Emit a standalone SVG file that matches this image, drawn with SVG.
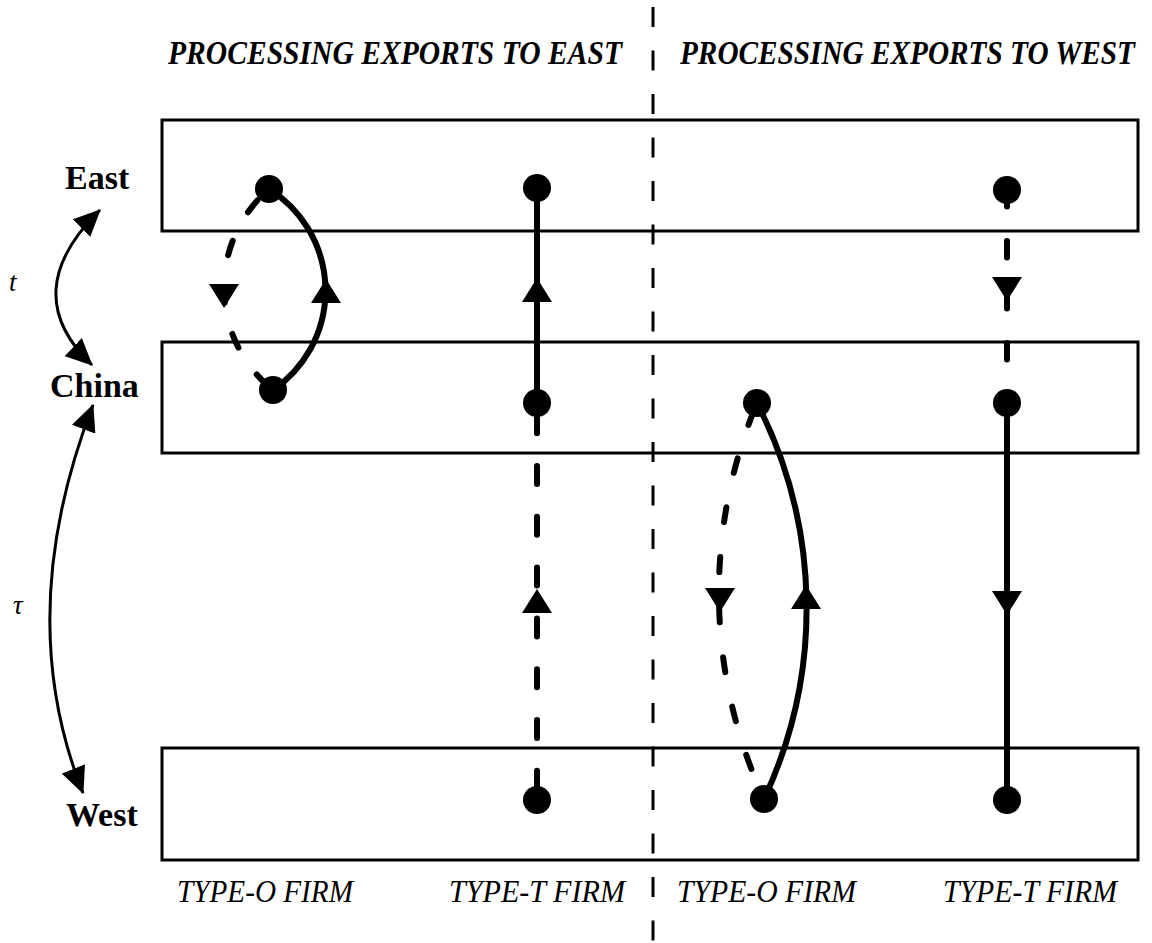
<svg xmlns="http://www.w3.org/2000/svg" xmlns:xlink="http://www.w3.org/1999/xlink" width="1152" height="943" viewBox="0 0 1152 943">
<style>
.box{fill:none;stroke:#000;stroke-width:3}
.dot{fill:#000}
.solid{fill:none;stroke:#000;stroke-width:6}
.dash{fill:none;stroke:#000;stroke-width:6;stroke-linecap:round}
.thin{fill:none;stroke:#000;stroke-width:3}
.divider{fill:none;stroke:#000;stroke-width:3;stroke-dasharray:20 23.5}
.head{font-family:"Liberation Serif",serif;font-weight:bold;font-style:italic;font-size:30px}
.region{font-family:"Liberation Serif",serif;font-weight:bold;font-size:34px}
.firm{font-family:"Liberation Serif",serif;font-style:italic;font-size:31px}
.sym{font-family:"Liberation Serif",serif;font-style:italic;font-size:27px}
</style>
<defs>
<path id="ah" d="M0,-12 L15,12 L-15,12 Z" fill="#000"/>
<marker id="tip" markerUnits="userSpaceOnUse" markerWidth="27" markerHeight="25" viewBox="0 0 27 25" refX="26" refY="12.5" orient="auto-start-reverse">
<path d="M0,0 L27,12.5 L0,25 Z" fill="#000"/>
</marker>
</defs>
<rect width="1152" height="943" fill="#fff"/>

<g id="divider"><line class="divider" x1="653" y1="7" x2="653" y2="943"/></g>

<g id="heading-east" transform="translate(168,64) scale(1,1.12)"><text class="head" x="0" y="0" textLength="454" lengthAdjust="spacingAndGlyphs">PROCESSING EXPORTS TO EAST</text></g>
<g id="heading-west" transform="translate(680,64) scale(1,1.12)"><text class="head" x="0" y="0" textLength="455" lengthAdjust="spacingAndGlyphs">PROCESSING EXPORTS TO WEST</text></g>

<g id="east"><rect class="box" x="162" y="120" width="976" height="111"/><text class="region" x="65" y="189">East</text></g>
<g id="china"><rect class="box" x="162" y="342" width="976" height="111"/><text class="region" x="50" y="397">China</text></g>
<g id="west"><rect class="box" x="162" y="748" width="976" height="112"/><text class="region" x="66" y="826">West</text></g>

<g id="label-t"><text class="sym" x="9" y="291">t</text></g>
<g id="label-tau"><text class="sym" x="13" y="614">τ</text></g>

<g id="firm-labels">
<text class="firm" x="177" y="902" textLength="176" lengthAdjust="spacingAndGlyphs">TYPE-O FIRM</text>
<text class="firm" x="449" y="902" textLength="176" lengthAdjust="spacingAndGlyphs">TYPE-T FIRM</text>
<text class="firm" x="677" y="902" textLength="179" lengthAdjust="spacingAndGlyphs">TYPE-O FIRM</text>
<text class="firm" x="943" y="902" textLength="174" lengthAdjust="spacingAndGlyphs">TYPE-T FIRM</text>
</g>

<g id="connectors">
<path class="thin" d="M100,210 Q16,292.5 92,365" marker-start="url(#tip)" marker-end="url(#tip)"/>
<path class="thin" d="M93,405 Q12,615 83,793" marker-start="url(#tip)" marker-end="url(#tip)"/>

<path class="solid" d="M269,189 A120,120 0 0 1 273,390"/>
<path class="dash" d="M269,189 A131,131 0 0 0 273,390" stroke-dasharray="15 32.5" stroke-dashoffset="-16.5"/>
<use xlink:href="#ah" transform="translate(326,291)"/>
<use xlink:href="#ah" transform="translate(224,296) rotate(180)"/>

<line class="solid" x1="537" y1="188" x2="537" y2="403"/>
<line class="dash" x1="537" y1="403" x2="537" y2="800" stroke-dasharray="18 32.8" stroke-dashoffset="-12.2"/>
<use xlink:href="#ah" transform="translate(537,290)"/>
<use xlink:href="#ah" transform="translate(537,601)"/>

<path class="solid" d="M757,403 A449,449 0 0 1 764,799"/>
<path class="dash" d="M757,403 A493,493 0 0 0 764,799" stroke-dasharray="15 35.2" stroke-dashoffset="-8.5"/>
<use xlink:href="#ah" transform="translate(806,597)"/>
<use xlink:href="#ah" transform="translate(720,600) rotate(180)"/>

<line class="dash" x1="1007" y1="190" x2="1007" y2="403" stroke-dasharray="16.5 34.5"/>
<line class="solid" x1="1007" y1="403" x2="1007" y2="800"/>
<use xlink:href="#ah" transform="translate(1007,289) rotate(180)"/>
<use xlink:href="#ah" transform="translate(1007,603) rotate(180)"/>
</g>

<g id="dots">
<circle id="o-east-e" class="dot" cx="269" cy="189" r="14"/>
<circle id="o-east-c" class="dot" cx="273" cy="390" r="14"/>
<circle id="t-east-e" class="dot" cx="537" cy="188" r="14"/>
<circle id="t-east-c" class="dot" cx="537" cy="403" r="14"/>
<circle id="t-east-w" class="dot" cx="537" cy="800" r="14"/>
<circle id="o-west-c" class="dot" cx="757" cy="403" r="14"/>
<circle id="o-west-w" class="dot" cx="764" cy="799" r="14"/>
<circle id="t-west-e" class="dot" cx="1007" cy="190" r="14"/>
<circle id="t-west-c" class="dot" cx="1007" cy="403" r="14"/>
<circle id="t-west-w" class="dot" cx="1007" cy="800" r="14"/>
</g>
</svg>
